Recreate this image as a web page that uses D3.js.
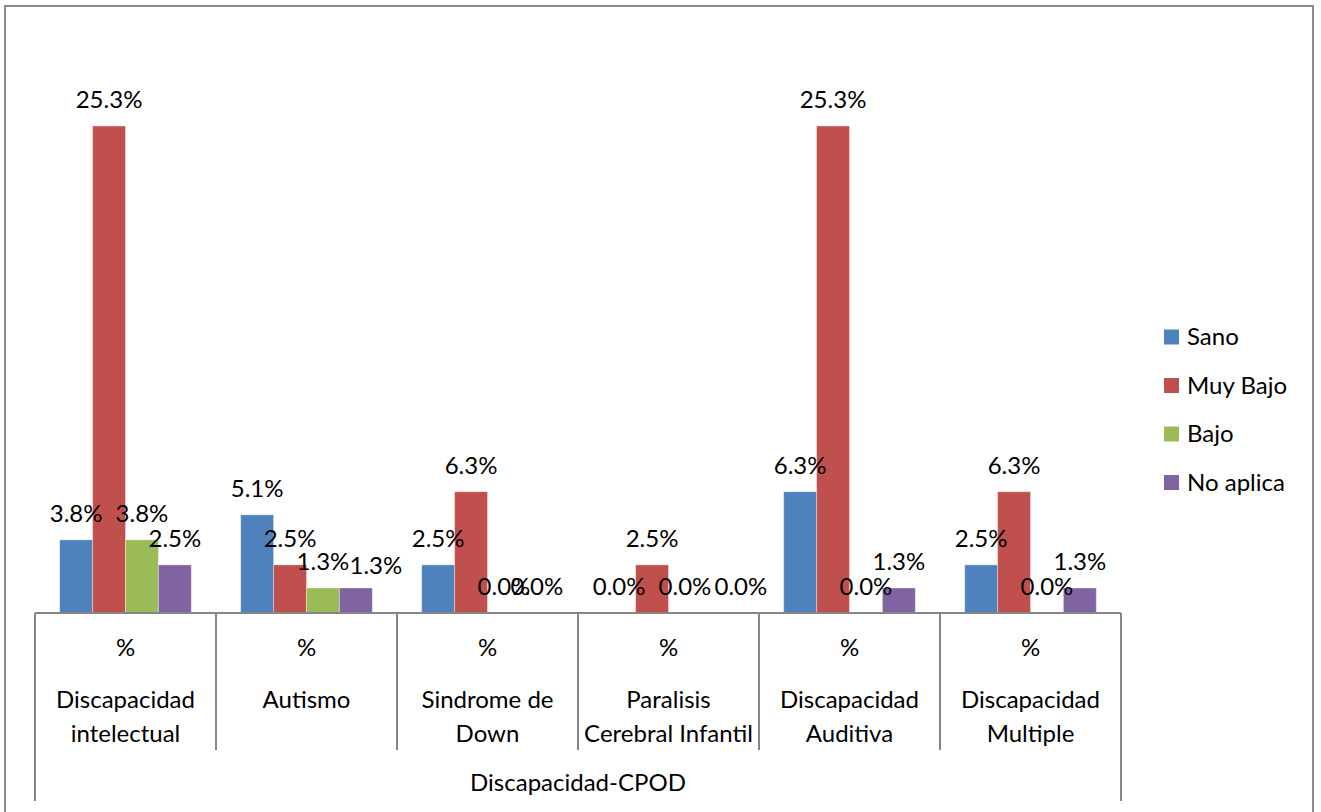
<!DOCTYPE html>
<html><head><meta charset="utf-8">
<script src="https://cdn.jsdelivr.net/npm/d3@7"></script>
<style>html,body{margin:0;padding:0;background:#fff;overflow:hidden}svg{display:block;font-family:Lato,"Open Sans",sans-serif}</style>
</head><body>
<svg id="c" width="1321" height="812"></svg>
<script>
const categories = [["Discapacidad","intelectual"],["Autismo"],["Sindrome de","Down"],["Paralisis","Cerebral Infantil"],["Discapacidad","Auditiva"],["Discapacidad","Multiple"]];
const categoryKeys = ["Discapacidad intelectual","Autismo","Sindrome de Down","Paralisis Cerebral Infantil","Discapacidad Auditiva","Discapacidad Multiple"];
const subLabel = "%";
const groupTitle = "Discapacidad-CPOD";
const seriesNames = ["Sano","Muy Bajo","Bajo","No aplica"];
const sano = [3.8,5.1,2.5,0.0,6.3,2.5];
const muyBajo = [25.3,2.5,6.3,2.5,25.3,6.3];
const bajo = [3.8,1.3,0.0,0.0,0.0,0.0];
const noAplica = [2.5,1.3,0.0,0.0,1.3,1.3];
const seriesValues = [sano,muyBajo,bajo,noAplica];
const colors = ["#4F81BD","#C0504D","#9BBB59","#8064A2"];
// label nudges the original applies to avoid collisions (category index, series index, dx, dy)
const labelNudges = [[1,3,20,4],[3,3,23,0]];

const svg = d3.select("#c");
const fs = 24;
svg.append("rect").attr("x",5).attr("y",6).attr("width",1308).attr("height",830)
  .attr("fill","#fff").attr("stroke","#8c8c8c").attr("stroke-width",2);

const x0 = d3.scaleBand().domain(categoryKeys).range([35,1121]).paddingInner(0).paddingOuter(0);
const gw = x0.bandwidth();
const bw = gw/5.5; // gap width 150%
const x1s = d3.scaleLinear().domain([0,4]).range([0.75*bw, 4.75*bw]);
const y = d3.scaleLinear().domain([0,30]).range([613, 613-30*19.25]);

const data = [];
categoryKeys.forEach((c,i)=>seriesNames.forEach((s,j)=>{
  const n = labelNudges.find(a=>a[0]===i&&a[1]===j);
  data.push({c,s,j,v:seriesValues[j][i],dx:n?n[2]:0,dy:n?n[3]:0});
}));

svg.append("g").selectAll("rect").data(data).join("rect")
  .attr("x",d=>x0(d.c)+x1s(d.j))
  .attr("y",d=>y(d.v))
  .attr("width",bw)
  .attr("height",d=>y(0)-y(d.v))
  .attr("fill",d=>colors[d.j])
  .attr("stroke","rgba(255,255,255,0.35)").attr("stroke-width",1);

svg.append("g").selectAll("text").data(data).join("text")
  .attr("x",d=>x0(d.c)+x1s(d.j)+bw/2+d.dx)
  .attr("y",d=>y(d.v)-18+d.dy)
  .attr("text-anchor","middle").attr("font-size",fs).attr("fill","#000")
  .text(d=>d.v.toFixed(1)+"%");

const ax = svg.append("g").attr("stroke","#868686").attr("stroke-width",2);
ax.append("line").attr("x1",35).attr("x2",1121).attr("y1",y(0)).attr("y2",y(0));
const bounds = categoryKeys.map(c=>x0(c)).concat([x0.range()[1]]);
bounds.forEach((b,i)=>{
  const outer = i===0 || i===bounds.length-1;
  ax.append("line").attr("x1",b).attr("x2",b).attr("y1",y(0)).attr("y2",outer?801:750);
});
const tg = svg.append("g").attr("font-size",fs).attr("text-anchor","middle").attr("fill","#000");
categoryKeys.forEach((c,i)=>{
  const cx = x0(c)+gw/2;
  tg.append("text").attr("x",cx).attr("y",656).text(subLabel);
  categories[i].forEach((l,k)=>{
    tg.append("text").attr("x",cx).attr("y",708+k*34).text(l);
  });
});
tg.append("text").attr("x",(35+1121)/2).attr("y",791).text(groupTitle);

const lg = svg.append("g");
seriesNames.forEach((s,i)=>{
  const yy = 337+i*48.5;
  lg.append("rect").attr("x",1164).attr("y",yy-7.5).attr("width",15).attr("height",15).attr("fill",colors[i]);
  lg.append("text").attr("x",1187).attr("y",yy+8).attr("font-size",fs).attr("fill","#000").text(s);
});
</script>
</body></html>
